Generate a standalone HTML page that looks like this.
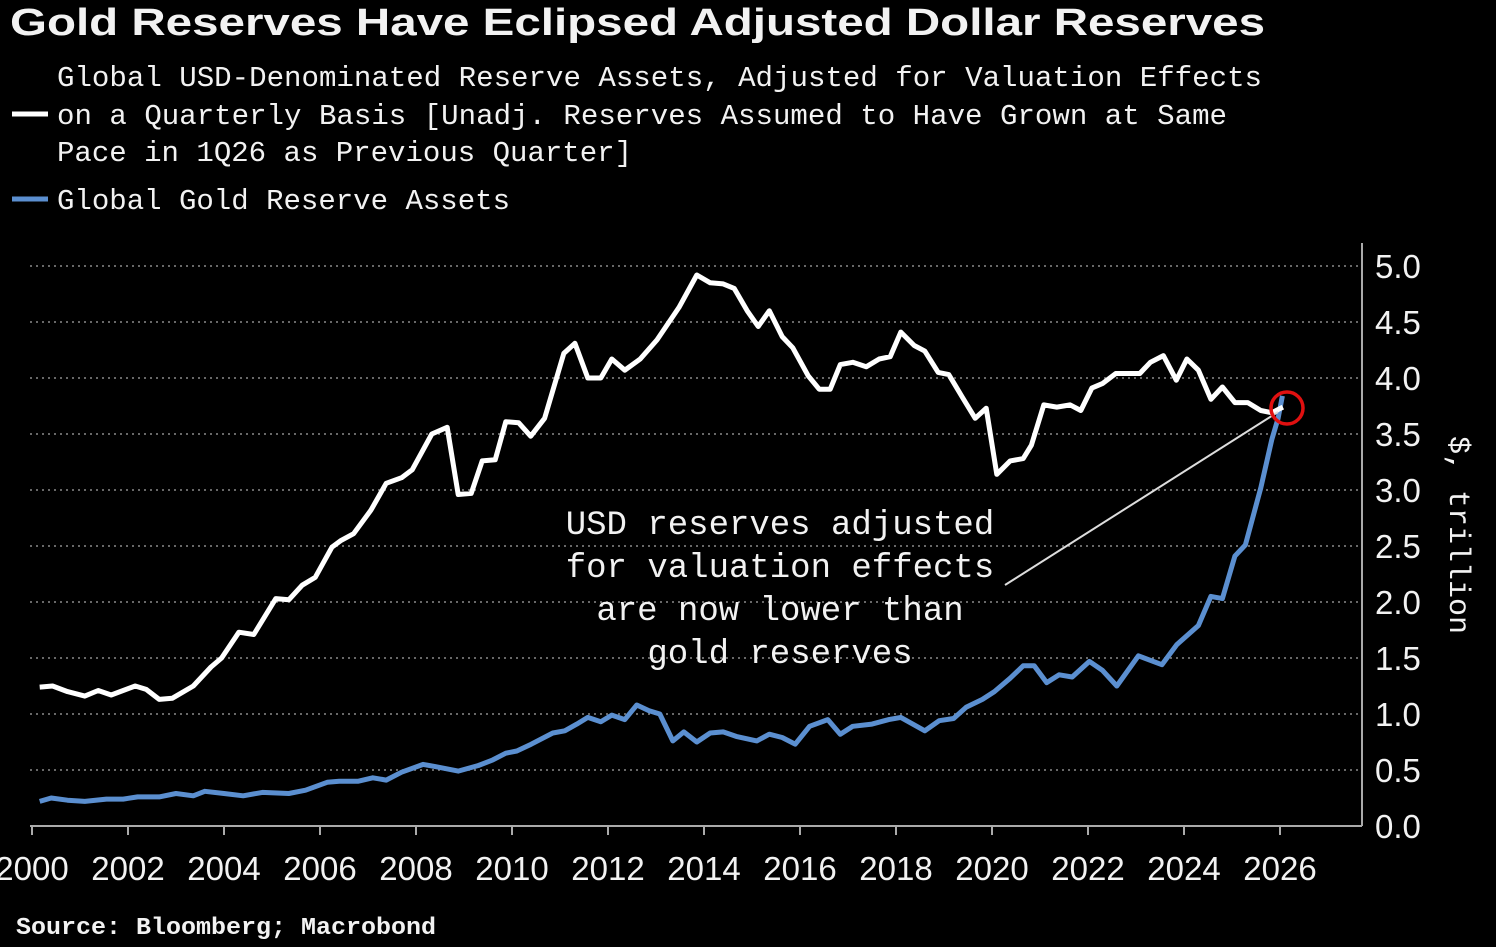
<!DOCTYPE html>
<html><head><meta charset="utf-8">
<style>
html,body{margin:0;padding:0;background:#000;}
svg{display:block;}
text{fill:#f2f2f2;}
.mono{font-family:"Liberation Mono","DejaVu Sans Mono",monospace;}
.sans{font-family:"Liberation Sans","DejaVu Sans",sans-serif;}
</style></head>
<body>
<svg id="chart" width="1496" height="947" viewBox="0 0 1496 947" xmlns="http://www.w3.org/2000/svg">
<rect width="1496" height="947" fill="#000"/>
<text class="sans" x="10" y="35" font-size="38" font-weight="bold" textLength="1255" lengthAdjust="spacingAndGlyphs">Gold Reserves Have Eclipsed Adjusted Dollar Reserves</text>
<g>
<g>
<line x1="12" y1="114" x2="48" y2="114" stroke="#fff" stroke-width="5"/>
<text class="mono" x="57" y="86" font-size="29" textLength="1205" lengthAdjust="spacingAndGlyphs">Global USD-Denominated Reserve Assets, Adjusted for Valuation Effects</text>
<text class="mono" x="57" y="124" font-size="29" textLength="1170" lengthAdjust="spacingAndGlyphs">on a Quarterly Basis [Unadj. Reserves Assumed to Have Grown at Same</text>
<text class="mono" x="57" y="161" font-size="29" textLength="575" lengthAdjust="spacingAndGlyphs">Pace in 1Q26 as Previous Quarter]</text>
</g>
<g>
<line x1="12" y1="199" x2="48" y2="199" stroke="#5b8fd0" stroke-width="5"/>
<text class="mono" x="57" y="209" font-size="29" textLength="453" lengthAdjust="spacingAndGlyphs">Global Gold Reserve Assets</text>
</g>
</g>
<g id="grid"></g>
<g id="axes"></g>
<g id="series"></g>
<g>
<line x1="1005" y1="585" x2="1278" y2="412" stroke="#ddd" stroke-width="2"/>
<circle cx="1287" cy="408" r="16" fill="none" stroke="#e01010" stroke-width="3.5"/>
<g class="mono" font-size="34" text-anchor="middle">
<text x="780" y="534">USD reserves adjusted</text>
<text x="780" y="577">for valuation effects</text>
<text x="780" y="620">are now lower than</text>
<text x="780" y="663">gold reserves</text>
</g>
</g>
<text class="mono" x="16" y="934" font-size="24" font-weight="bold" textLength="420" lengthAdjust="spacingAndGlyphs">Source: Bloomberg; Macrobond</text>
</svg>
<script>
const yTicks = [0,0.5,1,1.5,2,2.5,3,3.5,4,4.5,5];
const yTickLabels = ["0.0","0.5","1.0","1.5","2.0","2.5","3.0","3.5","4.0","4.5","5.0"];
const xTicks = [2000,2002,2004,2006,2008,2010,2012,2014,2016,2018,2020,2022,2024,2026];
const usdDates = [2000.16,2000.43,2000.74,2001.1,2001.38,2001.65,2002.15,2002.38,2002.65,2002.92,2003.36,2003.73,2003.95,2004.31,2004.62,2005.08,2005.35,2005.63,2005.9,2006.25,2006.44,2006.7,2007.06,2007.38,2007.7,2007.92,2008.33,2008.65,2008.88,2009.15,2009.38,2009.65,2009.87,2010.14,2010.39,2010.68,2011.08,2011.31,2011.58,2011.85,2012.08,2012.35,2012.67,2013.02,2013.48,2013.85,2014.13,2014.4,2014.63,2014.9,2015.13,2015.36,2015.63,2015.85,2016.17,2016.4,2016.63,2016.84,2017.1,2017.38,2017.65,2017.88,2018.1,2018.38,2018.6,2018.88,2019.1,2019.38,2019.65,2019.88,2020.1,2020.38,2020.65,2020.82,2021.08,2021.35,2021.63,2021.85,2022.08,2022.3,2022.58,2022.85,2023.08,2023.3,2023.57,2023.84,2024.06,2024.3,2024.56,2024.8,2025.06,2025.33,2025.6,2025.83,2026.06];
const usdValues = [1.24,1.25,1.2,1.16,1.21,1.17,1.25,1.22,1.13,1.14,1.25,1.42,1.5,1.73,1.71,2.03,2.02,2.15,2.22,2.49,2.55,2.61,2.82,3.06,3.11,3.18,3.5,3.56,2.96,2.97,3.26,3.27,3.61,3.6,3.48,3.64,4.22,4.31,4.0,4.0,4.17,4.07,4.17,4.34,4.63,4.92,4.85,4.84,4.8,4.6,4.46,4.6,4.37,4.27,4.02,3.9,3.9,4.12,4.14,4.1,4.17,4.19,4.41,4.29,4.24,4.05,4.03,3.83,3.64,3.73,3.14,3.26,3.28,3.4,3.76,3.74,3.76,3.71,3.91,3.95,4.04,4.04,4.04,4.14,4.2,3.98,4.17,4.07,3.81,3.92,3.78,3.78,3.71,3.69,3.74];
const goldDates = [2000.16,2000.4,2000.74,2001.1,2001.55,2001.9,2002.2,2002.65,2003.0,2003.36,2003.6,2004.0,2004.4,2004.8,2005.35,2005.7,2006.15,2006.4,2006.8,2007.1,2007.38,2007.7,2008.15,2008.4,2008.88,2009.3,2009.6,2009.87,2010.1,2010.4,2010.85,2011.1,2011.35,2011.58,2011.85,2012.08,2012.35,2012.6,2012.85,2013.08,2013.35,2013.58,2013.85,2014.13,2014.4,2014.67,2015.1,2015.36,2015.63,2015.9,2016.2,2016.58,2016.84,2017.1,2017.5,2017.85,2018.1,2018.6,2018.9,2019.2,2019.46,2019.8,2020.05,2020.38,2020.65,2020.88,2021.14,2021.4,2021.67,2022.03,2022.3,2022.6,2023.05,2023.54,2023.85,2024.3,2024.56,2024.8,2025.06,2025.28,2025.6,2025.83,2025.96,2026.05];
const goldValues = [0.22,0.25,0.23,0.22,0.24,0.24,0.26,0.26,0.29,0.27,0.31,0.29,0.27,0.3,0.29,0.32,0.39,0.4,0.4,0.43,0.41,0.48,0.55,0.53,0.49,0.54,0.59,0.65,0.67,0.73,0.83,0.85,0.91,0.97,0.93,0.99,0.95,1.08,1.03,1.0,0.76,0.84,0.75,0.83,0.84,0.8,0.76,0.82,0.79,0.73,0.89,0.95,0.82,0.89,0.91,0.95,0.97,0.85,0.94,0.96,1.06,1.13,1.2,1.32,1.43,1.43,1.28,1.35,1.33,1.47,1.39,1.25,1.52,1.44,1.62,1.79,2.05,2.03,2.41,2.51,3.02,3.45,3.64,3.84];

const NS = "http://www.w3.org/2000/svg";
const X0 = 32, PXYR = 48, Y0 = 826, PXV = 112, AXR = 1362;
function xs(yr){ return X0 + (yr - 2000) * PXYR; }
function ys(v){ return Y0 - v * PXV; }
function mk(tag, attrs, parent){ const e = document.createElementNS(NS, tag); for (const k in attrs) e.setAttribute(k, attrs[k]); parent.appendChild(e); return e; }

const grid = document.getElementById('grid');
const axes = document.getElementById('axes');
const series = document.getElementById('series');

yTicks.forEach((v, i) => {
  if (v > 0) {
    const g = mk('line', {x1: 30, x2: AXR, y1: ys(v), y2: ys(v), stroke: '#8a8a8a', 'stroke-width': 1.5, 'stroke-dasharray': '2 4'}, grid);
    
    
  }
  const t = mk('text', {x: 1375, y: ys(v) + 12, 'font-size': 33, class: 'sans'}, axes);
  t.textContent = yTickLabels[i];
  
  
});

const base = mk('line', {x1: 30, x2: AXR, y1: Y0, y2: Y0, stroke: '#aaa', 'stroke-width': 2}, axes);


const yax = mk('line', {x1: AXR, x2: AXR, y1: 243, y2: Y0, stroke: '#aaa', 'stroke-width': 2}, axes);



xTicks.forEach(yr => {
  const tk = mk('line', {x1: xs(yr), x2: xs(yr), y1: Y0, y2: Y0 + 9, stroke: '#aaa', 'stroke-width': 2}, axes);
  
  
  const t = mk('text', {x: xs(yr), y: 880, 'font-size': 33, 'text-anchor': 'middle', class: 'sans'}, axes);
  t.textContent = String(yr);
  
  
});

const yt = mk('text', {x: 0, y: 0, 'font-size': 30, 'text-anchor': 'middle', class: 'mono', transform: 'translate(1450,535) rotate(90)'}, axes);
yt.textContent = '$, trillion';



function pathD(dates, vals){ return dates.map((d, i) => (i ? 'L' : 'M') + xs(d).toFixed(1) + ',' + ys(vals[i]).toFixed(1)).join(' '); }
const gl = mk('path', {d: pathD(goldDates, goldValues), fill: 'none', stroke: '#5b8fd0', 'stroke-width': 5, 'stroke-linejoin': 'round'}, series);


const ul = mk('path', {d: pathD(usdDates, usdValues), fill: 'none', stroke: '#ffffff', 'stroke-width': 5, 'stroke-linejoin': 'round'}, series);


</script>
</body></html>
